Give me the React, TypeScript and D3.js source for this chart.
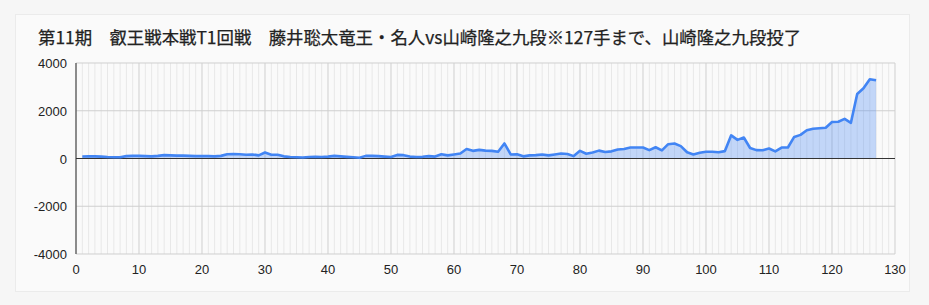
import React from "react";
import * as d3 from "d3";

const title = "第11期　叡王戦本戦T1回戦　藤井聡太竜王・名人vs山崎隆之九段※127手まで、山崎隆之九段投了";

const moves: number[] = Array.from({ length: 127 }, (_, i) => i + 1);
const evals: number[] = [
  85, 90, 90, 80, 60, 50, 50, 100, 110, 110,
  100, 90, 110, 140, 130, 120, 120, 110, 100, 100,
  100, 90, 110, 180, 190, 180, 160, 170, 130, 250,
  160, 160, 90, 60, 50, 40, 60, 70, 60, 80,
  110, 90, 70, 50, 30, 110, 110, 100, 80, 60,
  150, 140, 80, 60, 70, 100, 80, 180, 130, 170,
  210, 400, 320, 360, 330, 320, 280, 630, 170, 180,
  90, 130, 140, 170, 130, 170, 210, 190, 100, 320,
  200, 250, 330, 270, 300, 380, 400, 460, 460, 460,
  350, 470, 340, 600, 630, 520, 260, 170, 240, 280,
  280, 264, 310, 970, 780, 880, 440, 350, 345, 420,
  300, 460, 460, 905, 990, 1185, 1245, 1270, 1290, 1530,
  1540, 1660, 1495, 2700, 2940, 3320, 3280,
];

const xTicks: number[] = [0, 10, 20, 30, 40, 50, 60, 70, 80, 90, 100, 110, 120, 130];
const yTicks: number[] = [-4000, -2000, 0, 2000, 4000];

export default function App() {
  const W = 929, H = 305;
  const x = d3.scaleLinear().domain([0, 130]).range([76, 895]);
  const y = d3.scaleLinear().domain([-4000, 4000]).range([254, 63]);
  const data = moves.map((m, i) => [m, evals[i]] as [number, number]);
  const line = d3.line<[number, number]>().x(d => x(d[0])).y(d => y(d[1]));
  const area = d3.area<[number, number]>().x(d => x(d[0])).y0(y(0)).y1(d => y(d[1]));
  const minor = d3.range(1, 130).filter(v => v % 10 !== 0);
  const font = "'Liberation Sans', Arial, sans-serif";
  return (
    <svg width={W} height={H} style={{ position: "absolute", left: 0, top: 0, display: "block" }}>
      <rect x={0} y={0} width={W} height={H} fill="#f6f6f6" />
      <rect x={15.5} y={14.5} width={894} height={277} fill="#fafafa" stroke="#ebebeb" />
      <text x={38} y={44} fontFamily="'Noto Sans CJK JP', sans-serif" fontSize={17.4} fill="#222" stroke="#222" strokeWidth={0.25}>{title}</text>
      {minor.map(v => (
        <line key={"m" + v} x1={x(v)} x2={x(v)} y1={y(4000)} y2={y(-4000)} stroke="#e8e8e8" strokeWidth={1} />
      ))}
      {xTicks.map(v => (
        <line key={"M" + v} x1={x(v)} x2={x(v)} y1={y(4000)} y2={y(-4000)} stroke="#cfcfcf" strokeWidth={1} />
      ))}
      {yTicks.map(v => (
        <line key={"h" + v} x1={x(0)} x2={x(130)} y1={y(v)} y2={y(v)} stroke="#cfcfcf" strokeWidth={1} />
      ))}
      <path d={area(data) || ""} fill="#4285f4" fillOpacity={0.3} />
      <line x1={x(0)} x2={x(130)} y1={y(0)} y2={y(0)} stroke="#333" strokeWidth={1} />
      <line x1={x(0)} x2={x(0)} y1={y(4000)} y2={y(-4000)} stroke="#333" strokeWidth={1} />
      <path d={line(data) || ""} fill="none" stroke="#4285f4" strokeWidth={2.6} strokeLinejoin="round" />
      {yTicks.map(v => (
        <text key={"yl" + v} x={67} y={y(v) + 5} textAnchor="end" fontFamily={font} fontSize={13} fill="#222">{v}</text>
      ))}
      {xTicks.map(v => (
        <text key={"xl" + v} x={x(v)} y={274} textAnchor="middle" fontFamily={font} fontSize={13} fill="#222">{v}</text>
      ))}
    </svg>
  );
}
